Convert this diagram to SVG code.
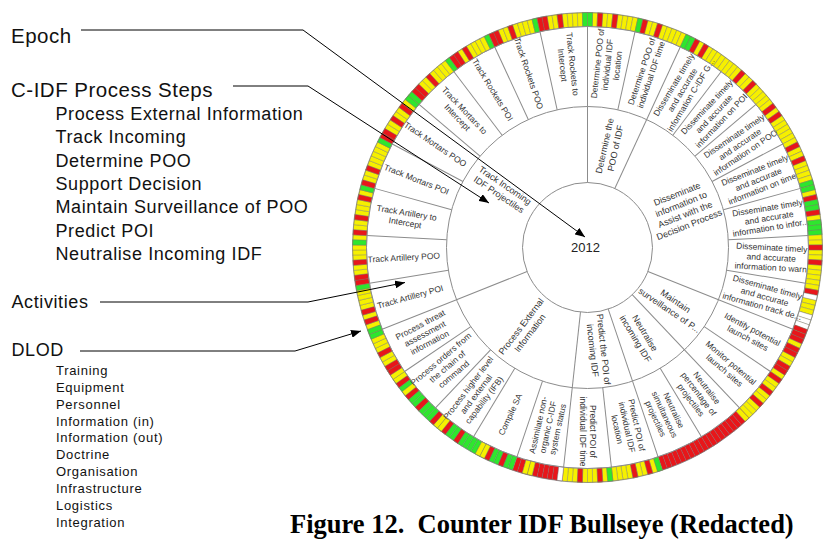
<svg xmlns="http://www.w3.org/2000/svg" width="824" height="539" viewBox="0 0 824 539">
<style>
text{font-family:"Liberation Sans",Arial,sans-serif}
.ln{stroke:#8c8c8c;stroke-width:1;fill:none}
.a{font-size:8.5px;fill:#333;text-anchor:middle}
.p{font-size:9px;fill:#333;text-anchor:middle}
.r{fill:#e8161a}.y{fill:#f6f000}.g{fill:#2ee62e}.w{fill:#fff}
.cells use{stroke:#707070;stroke-width:.35}
.h1{font-size:20.5px;letter-spacing:.5px;fill:#111}
.h2{font-size:18px;letter-spacing:.6px;fill:#111}
.h3{font-size:13px;letter-spacing:.7px;fill:#111}
.cap{font-family:"Liberation Serif","Times New Roman",serif;font-weight:bold;font-size:26.5px;fill:#000}
.con{stroke:#000;stroke-width:1;fill:none;marker-end:url(#ah)}
</style>
<defs>
<marker id="ah" markerUnits="userSpaceOnUse" markerWidth="11" markerHeight="8" refX="10" refY="4" orient="auto"><path d="M0 0L10 4L0 8Z" fill="#000"/></marker>
<path id="c" d="M221 0H235A235 235 0 0 1 234.945 5.091L220.948 4.788A221 221 0 0 0 221 0Z"/>
<use id="d0" href="#c"/>
<use id="d1" href="#c" transform="rotate(1.24138)"/>
<use id="d2" href="#c" transform="rotate(2.48276)"/>
<use id="d3" href="#c" transform="rotate(3.72414)"/>
<use id="d4" href="#c" transform="rotate(4.96552)"/>
<use id="d5" href="#c" transform="rotate(6.2069)"/>
<use id="d6" href="#c" transform="rotate(7.44828)"/>
<use id="d7" href="#c" transform="rotate(8.68966)"/>
<use id="d8" href="#c" transform="rotate(9.93103)"/>
<use id="d9" href="#c" transform="rotate(11.17241)"/>
<g id="ten"><use href="#d0"/><use href="#d1"/><use href="#d2"/><use href="#d3"/><use href="#d4"/><use href="#d5"/><use href="#d6"/><use href="#d7"/><use href="#d8"/><use href="#d9"/></g>
<line id="rl" x1="141" y1="0" x2="221" y2="0"/>
<line id="pl" x1="65" y1="0" x2="141" y2="0"/>
</defs>
<rect width="824" height="539" fill="#fff"/>

<g id="bullseye" transform="translate(587.5 247.5)">
<g id="act-0"><g class="cells" transform="rotate(-90)"><use href="#ten" class="y"/><use href="#d0" class="g"/><use href="#d2" class="r"/><use href="#d5" class="r"/></g>
<text class="a" transform="rotate(-83.793) translate(184)"><tspan x="0" y="-7">Determine POO of</tspan><tspan x="0" y="3">individual IDF</tspan><tspan x="0" y="13">location</tspan></text></g>
<g id="act-1"><g class="cells" transform="rotate(-77.5862)"><use href="#ten" class="y"/><use href="#d0" class="g"/><use href="#d1" class="r"/><use href="#d4" class="r"/></g>
<text class="a" transform="rotate(-71.379) translate(184)"><tspan x="0" y="-2">Determine POO of</tspan><tspan x="0" y="8">individual IDF time</tspan></text></g>
<g id="act-2"><g class="cells" transform="rotate(-65.1724)"><use href="#ten" class="y"/><use href="#d0" class="g"/><use href="#d1" class="g"/><use href="#d2" class="r"/><use href="#d4" class="r"/></g>
<text class="a" transform="rotate(-58.966) translate(184)"><tspan x="0" y="-7">Disseminate timely</tspan><tspan x="0" y="3">and accurate</tspan><tspan x="0" y="13">information C-IDF G...</tspan></text></g>
<g id="act-3"><g class="cells" transform="rotate(-52.7586)"><use href="#ten" class="y"/><use href="#d3" class="r"/><use href="#d6" class="r"/></g>
<text class="a" transform="rotate(-46.552) translate(184)"><tspan x="0" y="-7">Disseminate timely</tspan><tspan x="0" y="3">and accurate</tspan><tspan x="0" y="13">information on POI</tspan></text></g>
<g id="act-4"><g class="cells" transform="rotate(-40.3448)"><use href="#ten" class="y"/><use href="#d2" class="r"/><use href="#d4" class="r"/></g>
<text class="a" transform="rotate(-34.138) translate(184)"><tspan x="0" y="-7">Disseminate timely</tspan><tspan x="0" y="3">and accurate</tspan><tspan x="0" y="13">information on POO</tspan></text></g>
<g id="act-5"><g class="cells" transform="rotate(-27.931)"><use href="#ten" class="y"/><use href="#d1" class="r"/><use href="#d4" class="r"/><use href="#d9" class="g"/></g>
<text class="a" transform="rotate(-21.724) translate(184)"><tspan x="0" y="-7">Disseminate timely</tspan><tspan x="0" y="3">and accurate</tspan><tspan x="0" y="13">information on time</tspan></text></g>
<g id="act-6"><g class="cells" transform="rotate(-15.5172)"><use href="#ten" class="y"/><use href="#d0" class="g"/><use href="#d2" class="r"/><use href="#d3" class="g"/><use href="#d4" class="g"/><use href="#d5" class="r"/><use href="#d7" class="g"/><use href="#d8" class="g"/><use href="#d9" class="g"/></g>
<text class="a" transform="rotate(-9.310) translate(184)"><tspan x="0" y="-7">Disseminate timely</tspan><tspan x="0" y="3">and accurate</tspan><tspan x="0" y="13">information to infor...</tspan></text></g>
<g id="act-7"><g class="cells" transform="rotate(-3.1034)"><use href="#ten" class="y"/><use href="#d2" class="r"/><use href="#d5" class="r"/></g>
<text class="a" transform="rotate(3.103) translate(184)"><tspan x="0" y="-7">Disseminate timely</tspan><tspan x="0" y="3">and accurate</tspan><tspan x="0" y="13">information to warn</tspan></text></g>
<g id="act-8"><g class="cells" transform="rotate(9.3103)"><use href="#ten" class="y"/><use href="#d1" class="r"/><use href="#d2" class="w"/><use href="#d6" class="w"/><use href="#d7" class="w"/><use href="#d8" class="w"/><use href="#d9" class="r"/></g>
<text class="a" transform="rotate(15.517) translate(184)"><tspan x="0" y="-7">Disseminate timely</tspan><tspan x="0" y="3">and accurate</tspan><tspan x="0" y="13">information track de...</tspan></text></g>
<g id="act-9"><g class="cells" transform="rotate(21.7241)"><use href="#ten" class="y"/><use href="#d0" class="r"/><use href="#d1" class="r"/><use href="#d3" class="r"/><use href="#d4" class="r"/><use href="#d7" class="r"/><use href="#d8" class="r"/></g>
<text class="a" transform="rotate(27.931) translate(184)"><tspan x="0" y="-2">Identify potential</tspan><tspan x="0" y="8">launch sites</tspan></text></g>
<g id="act-10"><g class="cells" transform="rotate(34.1379)"><use href="#ten" class="y"/><use href="#d0" class="r"/><use href="#d3" class="r"/><use href="#d6" class="r"/></g>
<text class="a" transform="rotate(40.345) translate(184)"><tspan x="0" y="-2">Monitor potential</tspan><tspan x="0" y="8">launch sites</tspan></text></g>
<g id="act-11"><g class="cells" transform="rotate(46.5517)"><use href="#ten" class="r"/><use href="#d0" class="y"/></g>
<text class="a" transform="rotate(52.759) translate(184)"><tspan x="0" y="-7">Neutralise</tspan><tspan x="0" y="3">percentage of</tspan><tspan x="0" y="13">projectiles</tspan></text></g>
<g id="act-12"><g class="cells" transform="rotate(58.9655)"><use href="#ten" class="r"/></g>
<text class="a" transform="rotate(65.172) translate(184)"><tspan x="0" y="-7">Neutralise</tspan><tspan x="0" y="3">simultaneous</tspan><tspan x="0" y="13">projectiles</tspan></text></g>
<g id="act-13"><g class="cells" transform="rotate(71.3793)"><use href="#ten" class="y"/><use href="#d0" class="g"/><use href="#d2" class="r"/><use href="#d5" class="r"/></g>
<text class="a" transform="rotate(77.586) translate(184)"><tspan x="0" y="-7">Predict POI of</tspan><tspan x="0" y="3">individual IDF</tspan><tspan x="0" y="13">location</tspan></text></g>
<g id="act-14"><g class="cells" transform="rotate(83.7931)"><use href="#ten" class="y"/><use href="#d0" class="g"/><use href="#d2" class="r"/><use href="#d6" class="r"/></g>
<text class="a" transform="rotate(90) translate(184)"><tspan x="0" y="-2">Predict POI of</tspan><tspan x="0" y="8">individual IDF time</tspan></text></g>
<g id="act-15"><g class="cells" transform="rotate(96.2069)"><use href="#ten" class="r"/><use href="#d0" class="w"/><use href="#d6" class="y"/><use href="#d7" class="y"/></g>
<text class="a" transform="rotate(102.414) translate(184) rotate(180)"><tspan x="0" y="-7">Assimilate non-</tspan><tspan x="0" y="3">organic C-IDF</tspan><tspan x="0" y="13">system status</tspan></text></g>
<g id="act-16"><g class="cells" transform="rotate(108.6207)"><use href="#ten" class="g"/><use href="#d2" class="r"/><use href="#d5" class="r"/><use href="#d6" class="y"/><use href="#d7" class="y"/></g>
<text class="a" transform="rotate(114.828) translate(184) rotate(180)"><tspan x="0" y="3">Compile SA</tspan></text></g>
<g id="act-17"><g class="cells" transform="rotate(121.0345)"><use href="#ten" class="g"/><use href="#d2" class="r"/><use href="#d5" class="r"/><use href="#d6" class="y"/><use href="#d7" class="y"/><use href="#d8" class="r"/></g>
<text class="a" transform="rotate(127.241) translate(184) rotate(180)"><tspan x="0" y="-7">Process higher level</tspan><tspan x="0" y="3">and external</tspan><tspan x="0" y="13">capability (IFB)</tspan></text></g>
<g id="act-18"><g class="cells" transform="rotate(133.4483)"><use href="#ten" class="g"/><use href="#d2" class="r"/><use href="#d5" class="r"/><use href="#d6" class="y"/><use href="#d8" class="r"/><use href="#d9" class="y"/></g>
<text class="a" transform="rotate(139.655) translate(184) rotate(180)"><tspan x="0" y="-7">Process orders from</tspan><tspan x="0" y="3">the chain of</tspan><tspan x="0" y="13">command</tspan></text></g>
<g id="act-19"><g class="cells" transform="rotate(145.8621)"><use href="#ten" class="y"/><use href="#d1" class="r"/><use href="#d2" class="r"/><use href="#d5" class="r"/><use href="#d9" class="g"/></g>
<text class="a" transform="rotate(152.069) translate(184) rotate(180)"><tspan x="0" y="-7">Process threat</tspan><tspan x="0" y="3">assessment</tspan><tspan x="0" y="13">information</tspan></text></g>
<g id="act-20"><g class="cells" transform="rotate(158.2759)"><use href="#ten" class="y"/><use href="#d0" class="g"/><use href="#d2" class="r"/><use href="#d4" class="r"/><use href="#d9" class="g"/></g>
<text class="a" transform="rotate(164.483) translate(184) rotate(180)"><tspan x="0" y="3">Track Artillery POI</tspan></text></g>
<g id="act-21"><g class="cells" transform="rotate(170.6897)"><use href="#ten" class="y"/><use href="#d0" class="r"/><use href="#d1" class="r"/><use href="#d4" class="r"/><use href="#d8" class="g"/></g>
<text class="a" transform="rotate(176.897) translate(184) rotate(180)"><tspan x="0" y="3">Track Artillery POO</tspan></text></g>
<g id="act-22"><g class="cells" transform="rotate(183.1034)"><use href="#ten" class="y"/><use href="#d0" class="r"/><use href="#d3" class="r"/><use href="#d7" class="r"/><use href="#d9" class="g"/></g>
<text class="a" transform="rotate(189.310) translate(184) rotate(180)"><tspan x="0" y="-2">Track Artillery to</tspan><tspan x="0" y="8">Intercept</tspan></text></g>
<g id="act-23"><g class="cells" transform="rotate(195.5172)"><use href="#ten" class="y"/><use href="#d0" class="r"/><use href="#d3" class="r"/><use href="#d9" class="g"/></g>
<text class="a" transform="rotate(201.724) translate(184) rotate(180)"><tspan x="0" y="3">Track Mortars POI</tspan></text></g>
<g id="act-24"><g class="cells" transform="rotate(207.931)"><use href="#ten" class="y"/><use href="#d0" class="r"/><use href="#d1" class="r"/><use href="#d4" class="r"/><use href="#d7" class="r"/><use href="#d9" class="g"/></g>
<text class="a" transform="rotate(214.138) translate(184) rotate(180)"><tspan x="0" y="3">Track Mortars POO</tspan></text></g>
<g id="act-25"><g class="cells" transform="rotate(220.3448)"><use href="#ten" class="y"/><use href="#d0" class="g"/><use href="#d1" class="r"/><use href="#d2" class="r"/><use href="#d5" class="r"/></g>
<text class="a" transform="rotate(226.552) translate(184) rotate(180)"><tspan x="0" y="-2">Track Mortars to</tspan><tspan x="0" y="8">Intercept</tspan></text></g>
<g id="act-26"><g class="cells" transform="rotate(232.7586)"><use href="#ten" class="y"/><use href="#d0" class="g"/><use href="#d1" class="r"/><use href="#d2" class="r"/><use href="#d4" class="r"/><use href="#d9" class="g"/></g>
<text class="a" transform="rotate(238.966) translate(184) rotate(180)"><tspan x="0" y="3">Track Rockets POI</tspan></text></g>
<g id="act-27"><g class="cells" transform="rotate(245.1724)"><use href="#ten" class="y"/><use href="#d0" class="r"/><use href="#d1" class="r"/><use href="#d4" class="r"/><use href="#d9" class="g"/></g>
<text class="a" transform="rotate(251.379) translate(184) rotate(180)"><tspan x="0" y="3">Track Rockets POO</tspan></text></g>
<g id="act-28"><g class="cells" transform="rotate(257.5862)"><use href="#ten" class="y"/><use href="#d0" class="r"/><use href="#d1" class="r"/><use href="#d4" class="r"/><use href="#d9" class="g"/></g>
<text class="a" transform="rotate(263.793) translate(184) rotate(180)"><tspan x="0" y="-2">Track Rockets to</tspan><tspan x="0" y="8">Intercept</tspan></text></g>

<g id="ring-lines" class="ln">
<use href="#rl" transform="rotate(-90)"/><use href="#rl" transform="rotate(-77.5862)"/><use href="#rl" transform="rotate(-65.1724)"/><use href="#rl" transform="rotate(-52.7586)"/><use href="#rl" transform="rotate(-40.3448)"/><use href="#rl" transform="rotate(-27.931)"/><use href="#rl" transform="rotate(-15.5172)"/><use href="#rl" transform="rotate(-3.1034)"/><use href="#rl" transform="rotate(9.3103)"/><use href="#rl" transform="rotate(21.7241)"/><use href="#rl" transform="rotate(34.1379)"/><use href="#rl" transform="rotate(46.5517)"/><use href="#rl" transform="rotate(58.9655)"/><use href="#rl" transform="rotate(71.3793)"/><use href="#rl" transform="rotate(83.7931)"/><use href="#rl" transform="rotate(96.2069)"/><use href="#rl" transform="rotate(108.6207)"/><use href="#rl" transform="rotate(121.0345)"/><use href="#rl" transform="rotate(133.4483)"/><use href="#rl" transform="rotate(145.8621)"/><use href="#rl" transform="rotate(158.2759)"/><use href="#rl" transform="rotate(170.6897)"/><use href="#rl" transform="rotate(183.1034)"/><use href="#rl" transform="rotate(195.5172)"/><use href="#rl" transform="rotate(207.931)"/><use href="#rl" transform="rotate(220.3448)"/><use href="#rl" transform="rotate(232.7586)"/><use href="#rl" transform="rotate(245.1724)"/><use href="#rl" transform="rotate(257.5862)"/>
<use href="#pl" transform="rotate(-90)"/><use href="#pl" transform="rotate(-65.1724)"/><use href="#pl" transform="rotate(21.7241)"/><use href="#pl" transform="rotate(46.5517)"/><use href="#pl" transform="rotate(71.3793)"/><use href="#pl" transform="rotate(96.2069)"/><use href="#pl" transform="rotate(158.2759)"/>
<circle r="65"/><circle r="141"/><circle r="221"/><circle r="235" stroke="#777" stroke-width=".6"/>
</g>

<g id="step-track-incoming"><text class="p" transform="rotate(214.138) translate(103) rotate(180)"><tspan x="0" y="-2">Track Incoming</tspan><tspan x="0" y="9">IDF Projectiles</tspan></text></g>
<g id="step-determine-poo"><text class="p" transform="rotate(-77.586) translate(103)"><tspan x="0" y="-2">Determine the</tspan><tspan x="0" y="9">POO of IDF</tspan></text></g>
<g id="step-disseminate"><text class="p" transform="rotate(-21.724) translate(103)"><tspan x="0" y="-13.5">Disseminate</tspan><tspan x="0" y="-2.5">information to</tspan><tspan x="0" y="8.5">Assist with the</tspan><tspan x="0" y="19.5">Decision Process</tspan></text></g>
<g id="step-maintain"><text class="p" transform="rotate(34.138) translate(103)"><tspan x="0" y="-2">Maintain</tspan><tspan x="0" y="9">surveillance of P...</tspan></text></g>
<g id="step-neutralise"><text class="p" transform="rotate(58.966) translate(103)"><tspan x="0" y="-2">Neutralise</tspan><tspan x="0" y="9">incoming IDF</tspan></text></g>
<g id="step-predict"><text class="p" transform="rotate(83.793) translate(103)"><tspan x="0" y="-2">Predict the POI of</tspan><tspan x="0" y="9">incoming IDF</tspan></text></g>
<g id="step-process-external"><text class="p" transform="rotate(127.241) translate(103) rotate(180)"><tspan x="0" y="-2">Process External</tspan><tspan x="0" y="9">Information</tspan></text></g>
<g id="epoch"><text x="-2" y="4.5" style="font-size:13px;fill:#222;text-anchor:middle">2012</text></g>
</g>

<g id="legend-epoch"><text class="h1" x="11" y="43">Epoch</text></g>
<g id="legend-steps"><text class="h1" x="11" y="96.5">C-IDF Process Steps</text>
<text class="h2"><tspan x="55.5" y="120">Process External Information</tspan><tspan x="55.5" y="143.3">Track Incoming</tspan><tspan x="55.5" y="166.7">Determine POO</tspan><tspan x="55.5" y="190">Support Decision</tspan><tspan x="55.5" y="213.3">Maintain Surveillance of POO</tspan><tspan x="55.5" y="236.7">Predict POI</tspan><tspan x="55.5" y="260">Neutralise Incoming IDF</tspan></text></g>
<g id="legend-activities"><text class="h2" x="11.5" y="308">Activities</text></g>
<g id="legend-dlod"><text class="h2" x="11.5" y="355.5">DLOD</text>
<text class="h3"><tspan x="56" y="375">Training</tspan><tspan x="56" y="391.85">Equipment</tspan><tspan x="56" y="408.7">Personnel</tspan><tspan x="56" y="425.55">Information (in)</tspan><tspan x="56" y="442.4">Information (out)</tspan><tspan x="56" y="459.25">Doctrine</tspan><tspan x="56" y="476.1">Organisation</tspan><tspan x="56" y="492.95">Infrastructure</tspan><tspan x="56" y="509.8">Logistics</tspan><tspan x="56" y="526.65">Integration</tspan></text></g>

<g id="caption"><text class="cap" x="290" y="533" xml:space="preserve">Figure 12.  Counter IDF Bullseye (Redacted)</text></g>

<g id="connectors">
<polyline id="con-epoch" class="con" points="81,30 303,30 585,237"/>
<polyline id="con-steps" class="con" points="233,86 308,86 489,203"/>
<polyline id="con-activities" class="con" points="100,302 308,302 405,282.5"/>
<polyline id="con-dlod" class="con" points="80,351 295,351 361,331"/>
</g>
</svg>
